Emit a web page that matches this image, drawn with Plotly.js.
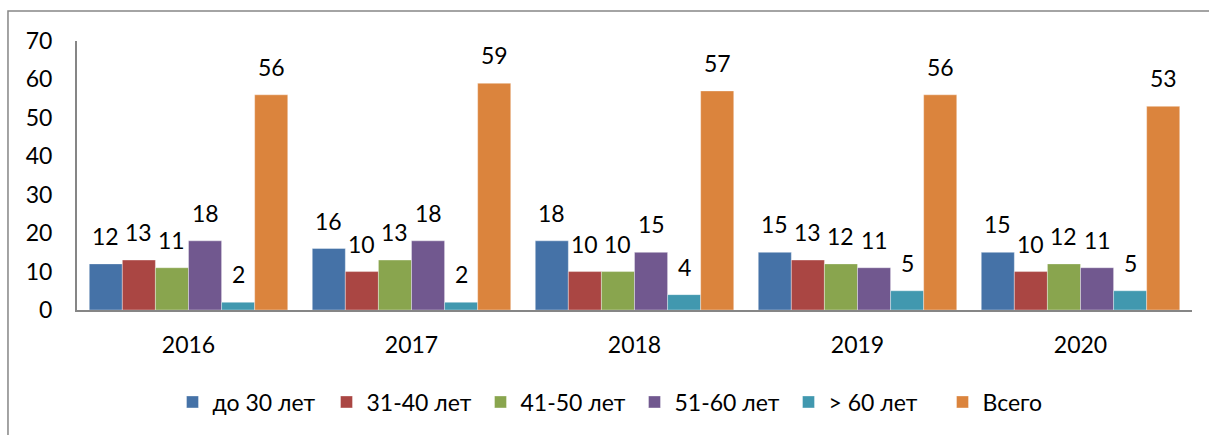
<!DOCTYPE html>
<html>
<head>
<meta charset="utf-8">
<script src="https://cdn.plot.ly/plotly-3.0.1.min.js"></script>
<style>html,body{margin:0;padding:0;background:#fff;}#chart{width:1209px;height:435px;}</style>
</head>
<body>
<div id="chart"></div>
<script>
const years = ['2016', '2017', '2018', '2019', '2020'];
const seriesNames = ['до 30 лет', '31-40 лет', '41-50 лет', '51-60 лет', '> 60 лет', 'Всего'];
const under30 = [12, 16, 18, 15, 15];
const age31to40 = [13, 10, 10, 13, 10];
const age41to50 = [11, 13, 10, 12, 12];
const age51to60 = [18, 18, 15, 11, 11];
const over60 = [2, 2, 4, 5, 5];
const total = [56, 59, 57, 56, 53];
const seriesValues = [under30, age31to40, age41to50, age51to60, over60, total];
const colors = ['#4572A7', '#AA4643', '#89A54E', '#71588F', '#4198AF', '#DB843D'];

const FONT = 'Lato, "Open Sans", sans-serif';
const FS = 23;
const bargap = 0.11;
const n = seriesValues.length;
const slot = (1 - bargap) / n;

const traces = seriesValues.map((vals, j) => ({
  type: 'bar',
  name: seriesNames[j],
  x: years,
  y: vals,
  marker: {color: colors[j], line: {color: 'rgba(255,255,255,0.6)', width: 0.6}},
  hoverinfo: 'skip'
}));

const annotations = [];
seriesValues.forEach((vals, j) => {
  vals.forEach((v, i) => {
    annotations.push({
      x: i + (j - (n - 1) / 2) * slot,
      y: v,
      xref: 'x', yref: 'y',
      text: String(v),
      showarrow: false,
      yanchor: 'bottom',
      yshift: 12,
      font: {family: FONT, size: FS, color: '#000'}
    });
  });
});

const layout = {
  width: 1209, height: 435,
  margin: {l: 77, r: 17, t: 41, b: 125},
  paper_bgcolor: '#fff', plot_bgcolor: '#fff',
  barmode: 'group', bargap: bargap, bargroupgap: 0,
  font: {family: FONT, size: FS, color: '#000'},
  xaxis: {
    type: 'category',
    showline: true, linecolor: '#868686', linewidth: 2,
    ticks: '', showgrid: false, zeroline: false,
    ticklabelstandoff: 13,
    tickfont: {family: FONT, size: FS, color: '#000'}
  },
  yaxis: {
    range: [0, 70], dtick: 10, tick0: 0,
    showline: true, linecolor: '#868686', linewidth: 2,
    ticks: '', showgrid: false, zeroline: false,
    ticklabelstandoff: 18,
    tickfont: {family: FONT, size: FS, color: '#000'}
  },
  showlegend: true,
  legend: {
    orientation: 'h', x: 0.5, xanchor: 'center',
    y: -0.342, yanchor: 'middle',
    font: {family: FONT, size: FS, color: '#000'},
    itemclick: false, itemdoubleclick: false,
    traceorder: 'normal',
    entrywidth: 109, entrywidthmode: 'pixels'
  },
  annotations: annotations,
  shapes: [{
    type: 'rect', xref: 'paper', yref: 'paper',
    x0: -0.0619, x1: 1.03, y0: -0.6, y1: 1.1115,
    line: {color: '#868686', width: 1.5}, fillcolor: 'rgba(0,0,0,0)', layer: 'below'
  }]
};

Plotly.newPlot('chart', traces, layout, {displayModeBar: false, staticPlot: true});
</script>
</body>
</html>
